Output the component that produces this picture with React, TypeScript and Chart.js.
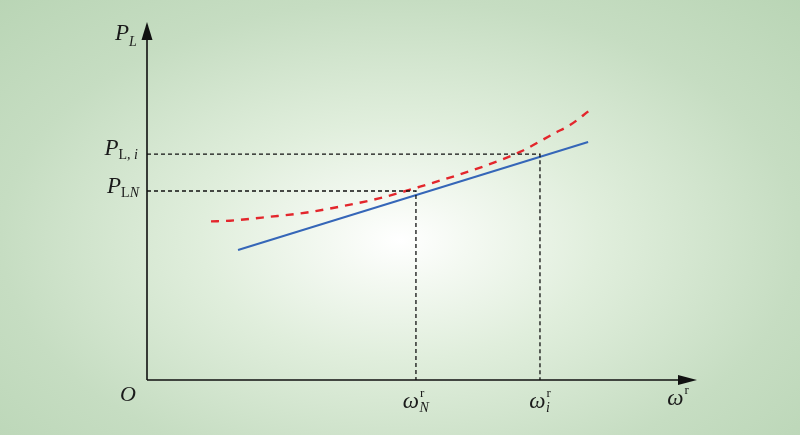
import React, { useEffect, useRef } from "react";
import { Chart, registerables } from "chart.js";

Chart.register(...registerables);

// Axis ranges (abstract units)
const xRange = [0, 10];
const yRange = [0, 10];

// Operating points
const omegaN = 4.89;
const omegaI = 7.145;
const pLN = 5.28;
const pLI = 6.31;

// Blue solid line (linear characteristic)
const blueX = [1.655, 8.02];
const blueY = [3.63, 6.65];

// Red dashed curve
const redX = [1.164, 1.509, 2.236, 2.909, 3.564, 4.236, 4.964, 6.145, 6.782, 7.418, 7.691, 8.055];
const redY = [4.43, 4.45, 4.56, 4.68, 4.86, 5.08, 5.4, 5.98, 6.37, 6.9, 7.12, 7.54];

const FONT = '"Liberation Serif", "Times New Roman", serif';

type Seg = { t: string; it: boolean; size: number; dy: number };

function segWidth(ctx: CanvasRenderingContext2D, segs: Seg[]) {
  let w = 0;
  for (const s of segs) {
    ctx.font = `${s.it ? "italic " : ""}${s.size}px ${FONT}`;
    w += ctx.measureText(s.t).width;
  }
  return w;
}

function drawSegs(ctx: CanvasRenderingContext2D, x: number, y: number, segs: Seg[]) {
  let cx = x;
  for (const s of segs) {
    ctx.font = `${s.it ? "italic " : ""}${s.size}px ${FONT}`;
    ctx.fillText(s.t, cx, y + s.dy);
    cx += ctx.measureText(s.t).width;
  }
  return cx;
}

function drawOmega(ctx: CanvasRenderingContext2D, cx: number, y: number, sub: string | null) {
  ctx.font = `italic 23px ${FONT}`;
  const wO = ctx.measureText("ω").width;
  ctx.font = `13px ${FONT}`;
  const wR = ctx.measureText("r").width;
  let wS = 0;
  if (sub) {
    ctx.font = `italic 14px ${FONT}`;
    wS = ctx.measureText(sub).width;
  }
  const total = wO + 1 + Math.max(wR, wS);
  const x0 = cx - total / 2;
  ctx.font = `italic 23px ${FONT}`;
  ctx.fillText("ω", x0, y);
  ctx.font = `13px ${FONT}`;
  ctx.fillText("r", x0 + wO + 1, y - 11);
  if (sub) {
    ctx.font = `italic 14px ${FONT}`;
    ctx.fillText(sub, x0 + wO + 0.5, y + 4);
  }
}

const bgPlugin = {
  id: "bg",
  beforeDraw(chart: any) {
    const ctx = chart.ctx as CanvasRenderingContext2D;
    const w = chart.width;
    const h = chart.height;
    ctx.save();
    ctx.scale(1, 0.6);
    const g = ctx.createRadialGradient(400, 240 / 0.6, 0, 400, 240 / 0.6, 570);
    g.addColorStop(0, "#ffffff");
    g.addColorStop(0.12, "#f4f9f2");
    g.addColorStop(0.35, "#e0eedc");
    g.addColorStop(0.7, "#c6ddc2");
    g.addColorStop(1, "#b9d5b5");
    ctx.fillStyle = g;
    ctx.fillRect(0, 0, w, h / 0.6);
    ctx.restore();
  },
};

const axesPlugin = {
  id: "axesDeco",
  afterDatasetsDraw(chart: any) {
    const ctx = chart.ctx as CanvasRenderingContext2D;
    const xs = chart.scales.x;
    const ys = chart.scales.y;
    const x0 = xs.getPixelForValue(xRange[0]);
    const x1 = xs.getPixelForValue(xRange[1]);
    const y0 = ys.getPixelForValue(yRange[0]);
    const y1 = ys.getPixelForValue(yRange[1]);
    ctx.save();
    ctx.strokeStyle = "#111";
    ctx.fillStyle = "#111";
    ctx.lineWidth = 1.6;
    ctx.beginPath();
    ctx.moveTo(x0, y0);
    ctx.lineTo(x1 - 12, y0);
    ctx.moveTo(x0, y0);
    ctx.lineTo(x0, y1 + 12);
    ctx.stroke();
    // arrow heads
    ctx.beginPath();
    ctx.moveTo(x1, y0);
    ctx.lineTo(x1 - 19, y0 - 5);
    ctx.lineTo(x1 - 19, y0 + 5);
    ctx.closePath();
    ctx.fill();
    ctx.beginPath();
    ctx.moveTo(x0, y1);
    ctx.lineTo(x0 - 5.5, y1 + 18);
    ctx.lineTo(x0 + 5.5, y1 + 18);
    ctx.closePath();
    ctx.fill();

    // labels
    ctx.fillStyle = "#1a1a1a";
    ctx.textBaseline = "alphabetic";
    // P_L (axis title)
    drawSegs(ctx, x0 - 32, y1 + 18, [
      { t: "P", it: true, size: 23, dy: 0 },
      { t: "L", it: true, size: 14, dy: 6 },
    ]);
    // P_L,i
    const segI: Seg[] = [
      { t: "P", it: true, size: 23, dy: 0 },
      { t: "L, ", it: false, size: 14, dy: 4 },
      { t: "i", it: true, size: 14, dy: 4 },
    ];
    const yI = ys.getPixelForValue(pLI);
    drawSegs(ctx, x0 - 9 - segWidth(ctx, segI), yI + 1, segI);
    // P_LN
    const segN: Seg[] = [
      { t: "P", it: true, size: 23, dy: 0 },
      { t: "L", it: false, size: 14, dy: 4 },
      { t: "N", it: true, size: 14, dy: 4 },
    ];
    const yN = ys.getPixelForValue(pLN);
    drawSegs(ctx, x0 - 8 - segWidth(ctx, segN), yN + 2, segN);
    // O
    ctx.font = `italic 22px ${FONT}`;
    ctx.fillText("O", x0 - 27, y0 + 21);
    // omegas
    drawOmega(ctx, xs.getPixelForValue(omegaN), y0 + 28, "N");
    drawOmega(ctx, xs.getPixelForValue(omegaI), y0 + 28, "i");
    drawOmega(ctx, x1 - 19, y0 + 25, null);
    ctx.restore();
  },
};

export default function App() {
  const ref = useRef<HTMLCanvasElement | null>(null);
  useEffect(() => {
    if (!ref.current) return;
    const guide = {
      borderColor: "#111",
      borderWidth: 1.3,
      borderDash: [4, 3],
      pointRadius: 0,
      fill: false,
      tension: 0,
    };
    const chart = new Chart(ref.current, {
      type: "line",
      data: {
        datasets: [
          { ...guide, data: [{ x: xRange[0], y: pLI }, { x: omegaI, y: pLI }, { x: omegaI, y: yRange[0] }] },
          { ...guide, data: [{ x: xRange[0], y: pLN }, { x: omegaN, y: pLN }, { x: omegaN, y: yRange[0] }] },
          {
            data: blueX.map((x, i) => ({ x, y: blueY[i] })),
            borderColor: "#3566b8",
            borderWidth: 2,
            pointRadius: 0,
            fill: false,
          },
          {
            data: redX.map((x, i) => ({ x, y: redY[i] })),
            borderColor: "#e3262c",
            borderWidth: 2.4,
            borderDash: [8, 7],
            pointRadius: 0,
            fill: false,
            cubicInterpolationMode: "monotone",
          },
        ] as any,
      },
      options: {
        animation: false,
        responsive: false,
        events: [],
        layout: { padding: { left: 147, right: 103, top: 22, bottom: 55 } },
        plugins: { legend: { display: false }, tooltip: { enabled: false } },
        scales: {
          x: { type: "linear", min: xRange[0], max: xRange[1], display: false },
          y: { type: "linear", min: yRange[0], max: yRange[1], display: false },
        },
      },
      plugins: [bgPlugin, axesPlugin],
    });
    return () => chart.destroy();
  }, []);
  return (
    <div style={{ position: "fixed", left: 0, top: 0, width: 800, height: 435 }}>
      <canvas ref={ref} width={800} height={435} style={{ display: "block" }} />
    </div>
  );
}
